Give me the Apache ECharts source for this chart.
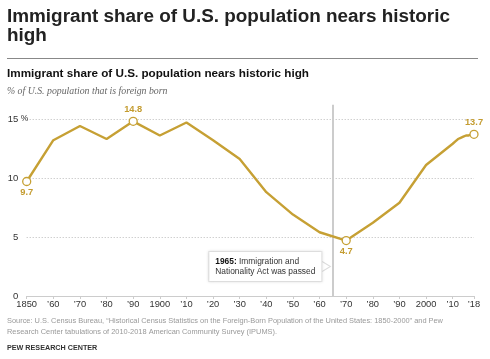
<!DOCTYPE html>
<html><head><meta charset="utf-8">
<script src="https://cdn.jsdelivr.net/npm/echarts@6/dist/echarts.min.js"></script>
<style>html,body{margin:0;padding:0;background:#fff}#c{width:490px;height:359px}</style>
</head><body><div id="c"></div>
<script>
// ---- data ----
const years = [1850,1860,1870,1880,1890,1900,1910,1920,1930,1940,1950,1960,1970,1980,1990,2000,2010,2011,2012,2013,2014,2015,2016,2017,2018];
const share = [9.7,13.2,14.4,13.3,14.8,13.6,14.7,13.2,11.6,8.8,6.9,5.4,4.7,6.2,7.9,11.1,12.9,13.1,13.3,13.4,13.5,13.6,13.6,13.7,13.7];
const yTicks = [0,5,10,15];
const labeledYears = [1850,1890,1970,2018];
const labelBelow = [1850,1970];
const eventYear = 1965;
const eventBold = '1965:';
const eventLines = ['Immigration and', 'Nationality Act was passed'];
const titleText = 'Immigrant share of U.S. population nears historic\nhigh';
const chartTitle = 'Immigrant share of U.S. population nears historic high';
const chartSubtitle = '% of U.S. population that is foreign born';
const sourceText = 'Source: U.S. Census Bureau, \u201cHistorical Census Statistics on the Foreign-Born Population of the United States: 1850-2000\u201d and Pew\nResearch Center tabulations of 2010-2018 American Community Survey (IPUMS).';
const creditText = 'PEW RESEARCH CENTER';

const GOLD = '#c6a034';
const GOLD_TXT = '#c49c30';
const SANS = '"Liberation Sans", Arial, sans-serif';

const seriesData = years.map((y, i) => {
  const lab = labeledYears.includes(y);
  return {
    value: [y, share[i]],
    symbol: lab ? 'circle' : 'none',
    symbolSize: lab ? 8 : 0,
    label: lab ? {
      show: true,
      position: labelBelow.includes(y) ? 'bottom' : 'top',
      distance: labelBelow.includes(y) ? 2 : 3
    } : { show: false }
  };
});

const chart = echarts.init(document.getElementById('c'), null, { renderer: 'canvas' });
chart.setOption({
  animation: false,
  backgroundColor: '#fff',
  title: [
    { text: titleText, left: 7, top: 7, padding: 0,
      textStyle: { fontFamily: SANS, fontWeight: 'bold', fontSize: 18.9, lineHeight: 19.5, color: '#222' } },
    { text: chartTitle, left: 7, top: 67, padding: 0,
      textStyle: { fontFamily: SANS, fontWeight: 'bold', fontSize: 11.7, lineHeight: 14, color: '#111' } },
    { text: chartSubtitle, left: 7, top: 85.7, padding: 0,
      textStyle: { fontFamily: '"Liberation Serif", Georgia, serif', fontStyle: 'italic', fontWeight: 'normal', fontSize: 9.8, lineHeight: 12, color: '#666' } },
    { text: sourceText, left: 7, top: 315.6, padding: 0,
      textStyle: { fontFamily: SANS, fontWeight: 'normal', fontSize: 7.42, lineHeight: 10.7, color: '#999' } },
    { text: creditText, left: 7, top: 344, padding: 0,
      textStyle: { fontFamily: SANS, fontWeight: 'bold', fontSize: 7.2, lineHeight: 9, color: '#333' } }
  ],
  graphic: [
    { type: 'line', shape: { x1: 7, y1: 58.5, x2: 478, y2: 58.5 }, style: { stroke: '#888', lineWidth: 1 } }
  ],
  grid: { left: 26.7, right: 16, top: 104.8, bottom: 63, containLabel: false },
  xAxis: {
    type: 'value', min: 1850, max: 2018, interval: 10,
    axisLine: { show: true, lineStyle: { color: '#ccc', width: 1 } },
    axisTick: { show: true, length: 3, lineStyle: { color: '#ccc' } },
    splitLine: { show: false },
    axisLabel: {
      margin: 4, color: '#333', fontFamily: SANS, fontSize: 9.3,
      showMinLabel: true, showMaxLabel: true,
      formatter: v => (v % 100 === 0 || v === 1850) ? String(v) : '\u2019' + String(v).slice(2)
    }
  },
  yAxis: {
    type: 'value', min: 0, max: 16.2, interval: 5,
    axisLine: { show: false }, axisTick: { show: false },
    splitLine: { show: true, showMaxLine: false, lineStyle: { color: '#bbb', type: [1, 2], width: 1 } },
    axisLabel: {
      margin: -1.5, color: '#333', fontFamily: SANS, fontSize: 9.5, align: 'right',
      showMaxLabel: false,
      formatter: v => yTicks.includes(v) ? (String(v) + (v === 15 ? '{p| %}' : '{h| %}')) : '',
      rich: { p: { fontFamily: SANS, fontSize: 8.5, color: '#333' },
              h: { fontFamily: SANS, fontSize: 8.5, color: 'rgba(0,0,0,0)' } }
    }
  },
  series: [{
    type: 'line',
    data: seriesData,
    lineStyle: { color: GOLD, width: 2.4 },
    itemStyle: { color: '#fff', borderColor: GOLD, borderWidth: 1.3 },
    label: { color: GOLD_TXT, fontFamily: SANS, fontWeight: 'bold', fontSize: 9.3,
      formatter: p => p.value[1].toFixed(1) },
    z: 5,
    markLine: {
      silent: true, symbol: 'none', label: { show: false },
      lineStyle: { color: '#ccc', width: 2, type: 'solid' },
      data: [{ xAxis: eventYear }],
      z: 1
    },
    markPoint: {
      silent: true,
      data: [
        { coord: [eventYear, 2.5], symbol: 'triangle', symbolSize: [12, 10], symbolRotate: -90, symbolOffset: [-7.5, 0],
          itemStyle: { color: '#fff', borderColor: '#dcdcdc', borderWidth: 1 }, label: { show: false } },
        { coord: [eventYear, 2.5], symbol: 'rect', symbolSize: 0,
          label: {
            show: true, position: 'inside', align: 'left', verticalAlign: 'middle', offset: [-123.6, 0],
            formatter: '{b|' + eventBold + '} ' + eventLines[0] + '\n' + eventLines[1],
            fontFamily: SANS, fontSize: 8.4, lineHeight: 9.5, color: '#333',
            backgroundColor: '#fff', borderColor: '#e4e4e4', borderWidth: 1,
            shadowColor: 'rgba(0,0,0,0.12)', shadowBlur: 3,
            padding: [5, 6, 5, 6],
            rich: { b: { fontFamily: SANS, fontWeight: 'bold', fontSize: 8.4, color: '#111' } }
          } }
      ]
    }
  }]
});
</script>
</body></html>
